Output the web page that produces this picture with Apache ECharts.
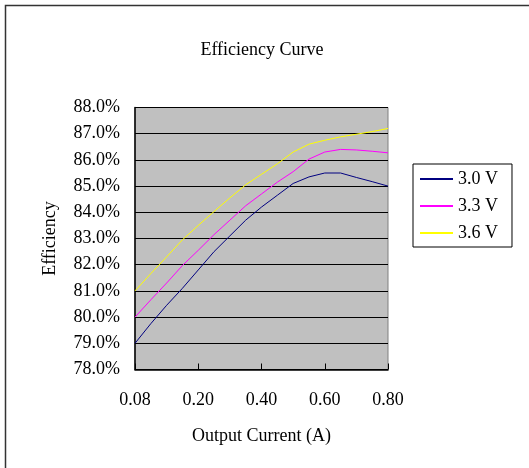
<!DOCTYPE html>
<html>
<head>
<meta charset="utf-8">
<script src="https://cdn.jsdelivr.net/npm/echarts@6/dist/echarts.min.js"></script>
<style>
html,body{margin:0;padding:0;background:#fff;}
#c{width:529px;height:468px;}
</style>
</head>
<body>
<div id="c"></div>
<script>
// Axis positions (value axis 0..0.8); first tick is labelled 0.08 as in the source chart
var xPositions = [0, 0.05, 0.10, 0.15, 0.20, 0.25, 0.30, 0.35, 0.40, 0.45, 0.50, 0.55, 0.60, 0.65, 0.70, 0.75, 0.80];
var xTickValues = [0, 0.2, 0.4, 0.6, 0.8];
var xTickLabels = ['0.08', '0.20', '0.40', '0.60', '0.80'];
var seriesNames = ['3.0 V', '3.3 V', '3.6 V'];
var eff30 = [79.0, 79.75, 80.45, 81.1, 81.8, 82.5, 83.1, 83.7, 84.2, 84.65, 85.1, 85.35, 85.5, 85.5, 85.33, 85.17, 85.0];
var eff33 = [80.0, 80.66, 81.3, 81.97, 82.55, 83.15, 83.7, 84.25, 84.7, 85.15, 85.55, 86.03, 86.3, 86.4, 86.38, 86.33, 86.27];
var eff36 = [81.0, 81.66, 82.3, 82.95, 83.5, 84.03, 84.55, 85.05, 85.45, 85.85, 86.3, 86.6, 86.75, 86.88, 86.98, 87.08, 87.2];

function pairs(ys){ return xPositions.map(function(x,i){ return [x, ys[i]]; }); }

var font = '"Liberation Serif", "Times New Roman", serif';
var fs = 18;
var chart = echarts.init(document.getElementById('c'));
var colors = ['#000080', '#FF00FF', '#FFFF00'];
var datas = [eff30, eff33, eff36];

chart.setOption({
  animation: false,
  backgroundColor: '#fff',
  title: {
    text: 'Efficiency Curve', left: 257, top: 36, textAlign: 'center',
    textStyle: {fontFamily: font, fontSize: fs, fontWeight: 'normal', color: '#000'}
  },
  graphic: [
    {type: 'rect', shape: {x: 5.5, y: 5.5, width: 700, height: 700}, style: {fill: 'none', stroke: '#333', lineWidth: 1.5}, z: 0}
  ],
  legend: {
    orient: 'vertical', left: 413, top: 164,
    backgroundColor: '#fff', borderColor: '#000', borderWidth: 1,
    padding: [6, 14, 5, 7], itemGap: 9, itemWidth: 33, itemHeight: 2,
    icon: 'rect',
    textStyle: {fontFamily: font, fontSize: fs, color: '#000'},
    data: seriesNames
  },
  grid: {left: 135, right: 141, top: 107.5, bottom: 98.5, show: true, backgroundColor: '#C0C0C0', borderColor: '#808080', borderWidth: 1},
  xAxis: {
    type: 'value', min: 0, max: 0.8, interval: 0.2,
    name: 'Output Current (A)', nameLocation: 'middle', nameGap: 58,
    nameTextStyle: {fontFamily: font, fontSize: fs, color: '#000'},
    axisLine: {show: true, lineStyle: {color: '#000', width: 1.5}},
    axisTick: {show: true, inside: true, length: 6, lineStyle: {color: '#000'}},
    splitLine: {show: false},
    axisLabel: {fontFamily: font, fontSize: fs, color: '#000', margin: 22,
      formatter: function(v){ var i = xTickValues.indexOf(Math.round(v*10)/10); return i >= 0 ? xTickLabels[i] : ''; }}
  },
  yAxis: {
    type: 'value', min: 78, max: 88, interval: 1,
    name: 'Efficiency', nameLocation: 'middle', nameGap: 76, nameRotate: 90,
    nameTextStyle: {fontFamily: font, fontSize: fs, color: '#000'},
    axisLine: {show: true, lineStyle: {color: '#000', width: 1.5}},
    axisTick: {show: true, inside: true, length: 5, lineStyle: {color: '#000'}},
    splitLine: {show: true, lineStyle: {color: '#000', width: 1}},
    axisLabel: {fontFamily: font, fontSize: fs, color: '#000', margin: 15,
      formatter: function(v){ return v.toFixed(1) + '%'; }}
  },
  series: seriesNames.map(function(n, k){
    return {
      name: n, type: 'line', data: pairs(datas[k]), showSymbol: false, smooth: false,
      lineStyle: {color: colors[k], width: 1}, itemStyle: {color: colors[k]}
    };
  })
});
</script>
</body>
</html>
